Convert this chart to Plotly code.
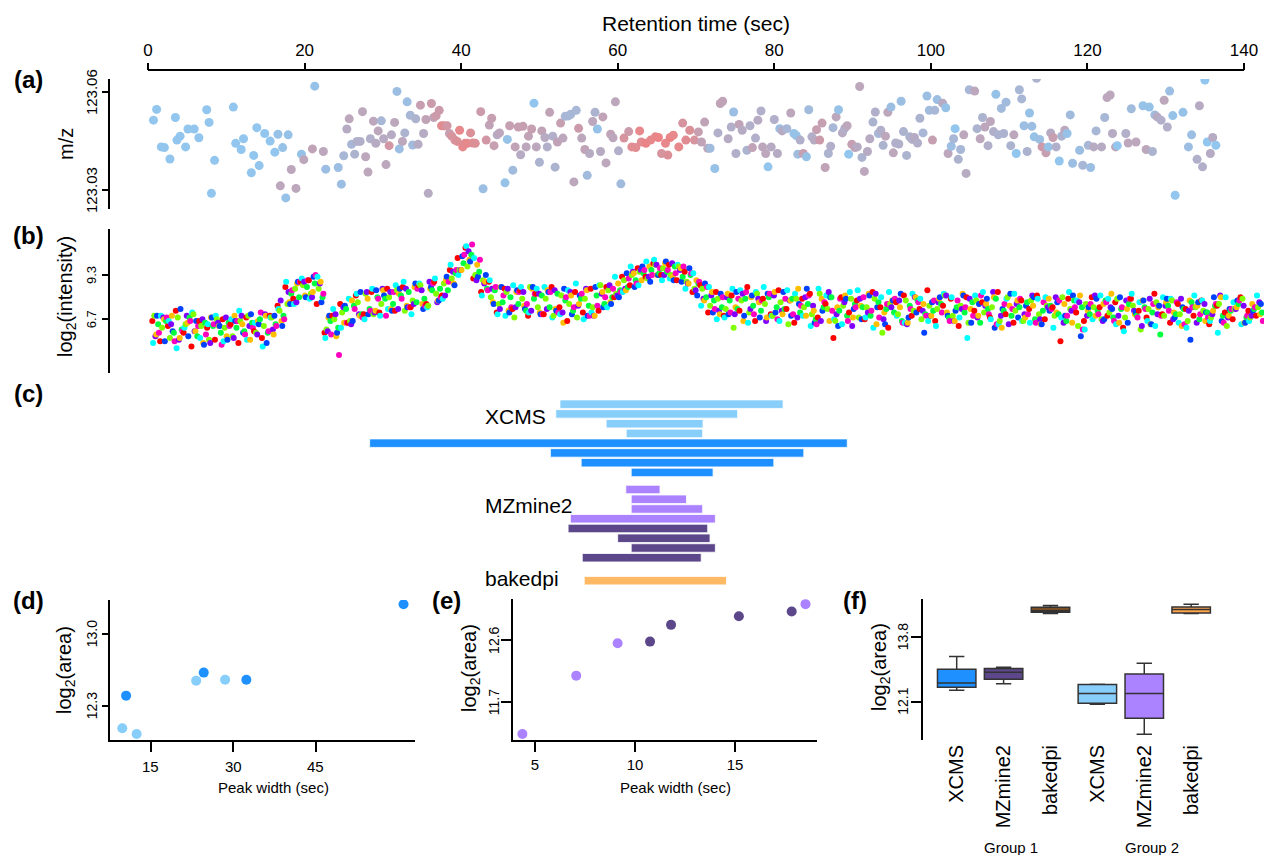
import plotly.graph_objects as go

W, H = 1264, 855
def px(x): return x / W
def py(y): return 1 - y / H

FONT = "Liberation Sans, Arial, sans-serif"

# ---------------- (a) m/z trace: retention time, m/z, relative intensity (colour) ----------------
a_rt = [0.7, 1.1, 1.7, 2.1, 2.8, 3.5, 3.7, 4.1, 4.8, 5.1,
        5.9, 6.5, 7.5, 7.8, 8.1, 8.5, 10.9, 11.2, 11.9, 12.2,
        13.2, 13.5, 13.9, 14.2, 14.9, 15.6, 16.2, 16.6, 16.9, 17.2,
        17.6, 17.9, 18.3, 18.9, 19.6, 19.9, 21.0, 21.3, 22.4, 22.7,
        24.3, 24.7, 25.0, 25.4, 25.7, 26.0, 26.4, 26.7, 27.1, 27.4,
        27.8, 28.1, 28.4, 28.8, 29.1, 29.4, 29.8, 30.1, 30.4, 30.8,
        31.1, 31.5, 31.8, 32.1, 32.5, 32.8, 33.1, 33.5, 33.8, 34.2,
        34.5, 34.8, 35.2, 35.5, 35.8, 36.2, 36.5, 36.8, 37.2, 37.5,
        37.8, 38.2, 38.5, 38.8, 39.2, 39.5, 39.8, 40.2, 40.5, 40.8,
        41.2, 41.5, 41.8, 42.5, 42.8, 43.2, 43.6, 43.9, 44.2, 44.6,
        44.9, 45.6, 45.9, 46.2, 46.6, 46.9, 47.3, 47.6, 47.9, 48.3,
        48.6, 49.0, 49.3, 49.6, 50.0, 50.3, 50.7, 51.0, 51.3, 51.7,
        52.0, 52.3, 52.7, 53.0, 53.3, 53.7, 54.0, 54.4, 54.7, 55.0,
        55.4, 55.8, 56.1, 56.4, 56.8, 57.1, 57.4, 57.8, 58.1, 58.5,
        59.1, 59.4, 59.7, 60.1, 60.4, 60.8, 61.4, 61.8, 62.3,
        62.8, 63.0, 63.6, 64.2, 64.8, 65.2, 65.6, 66.1, 66.4, 66.7,
        67.1, 67.8, 68.3, 68.7, 69.2, 69.8, 70.3, 70.7, 71.1, 71.5,
        71.8, 72.4, 72.8, 73.1, 73.4, 74.1, 74.5, 74.8, 75.1, 75.5,
        75.9, 76.5, 76.9, 77.2, 77.6, 77.9, 78.3, 78.5, 78.9, 79.2,
        79.6, 80.0, 80.4, 80.7, 81.0, 81.6, 82.1, 82.5, 82.8, 83.0,
        83.3, 83.7, 84.1, 84.4, 84.8, 85.1, 85.4, 85.8, 86.1, 86.5,
        86.9, 87.2, 87.5, 87.9, 88.2, 88.7, 89.0, 89.3, 89.5, 89.9,
        90.3, 90.6, 90.9, 91.2, 91.5, 91.9, 92.2, 92.6, 92.9, 93.3,
        93.6, 93.9, 94.2, 94.5, 94.9, 95.2, 95.5, 95.9, 96.2, 96.5,
        96.9, 97.3, 97.6, 97.9, 98.3, 98.6, 99.0, 99.5, 99.8, 100.2,
        100.5, 100.8, 101.5, 101.9, 102.2, 102.6, 102.9, 103.1, 103.5, 103.8,
        104.2, 104.5, 104.9, 105.6, 105.9, 106.3, 106.6, 106.9, 107.3, 107.6,
        108.0, 108.3, 108.6, 109.0, 109.3, 109.6, 110.2, 110.6, 110.9, 111.3,
        111.6, 111.9, 112.3, 112.6, 112.9, 113.2, 113.5, 113.9, 114.2, 114.7,
        115.0, 115.3, 115.6, 116.0, 116.4, 116.7, 117.1, 117.4, 117.8, 118.1,
        119.0, 119.4, 120.1, 120.4, 120.8, 121.1, 121.8, 122.2, 122.5, 122.9,
        123.2, 123.6, 123.8, 124.9, 125.2, 125.6, 126.2, 127.1, 127.5, 127.9,
        128.3, 128.6, 128.9, 129.4, 129.8, 130.2, 130.5, 130.9, 131.2, 132.2,
        132.9, 133.3, 134.0, 134.3, 134.7, 135.0, 135.3, 135.7, 136.0, 136.4]
a_mz = [123.0514, 123.0547, 123.0432, 123.0430, 123.0395, 123.0522, 123.0453, 123.0465, 123.0432, 123.0487,
        123.0487, 123.0460, 123.0546, 123.0507, 123.0290, 123.0391, 123.0554, 123.0443, 123.0424, 123.0457,
        123.0353, 123.0406, 123.0491, 123.0375, 123.0473, 123.0450, 123.0416, 123.0471, 123.0313, 123.0430,
        123.0276, 123.0469, 123.0363, 123.0305, 123.0410, 123.0393, 123.0426, 123.0618, 123.0418, 123.0364,
        123.0369, 123.0318, 123.0405, 123.0487, 123.0518, 123.0440, 123.0410, 123.0449, 123.0449, 123.0540,
        123.0402, 123.0355, 123.0457, 123.0511, 123.0443, 123.0481, 123.0512, 123.0457, 123.0378, 123.0436,
        123.0469, 123.0507, 123.0602, 123.0426, 123.0449, 123.0475, 123.0570, 123.0529, 123.0438, 123.0518,
        123.0440, 123.0560, 123.0473, 123.0516, 123.0290, 123.0565, 123.0522, 123.0527, 123.0544, 123.0497,
        123.0497, 123.0497, 123.0473, 123.0465, 123.0453, 123.0449, 123.0483, 123.0432, 123.0443, 123.0443,
        123.0475, 123.0444, 123.0443, 123.0540, 123.0304, 123.0453, 123.0499, 123.0520, 123.0436, 123.0469,
        123.0475, 123.0322, 123.0455, 123.0497, 123.0361, 123.0432, 123.0493, 123.0408, 123.0495, 123.0432,
        123.0465, 123.0487, 123.0566, 123.0432, 123.0385, 123.0481, 123.0461, 123.0432, 123.0538, 123.0465,
        123.0370, 123.0447, 123.0505, 123.0459, 123.0526, 123.0527, 123.0532, 123.0325, 123.0544, 123.0489,
        123.0459, 123.0424, 123.0345, 123.0412, 123.0510, 123.0538, 123.0487, 123.0418, 123.0524, 123.0383,
        123.0471, 123.0460, 123.0570, 123.0420, 123.0319, 123.0459, 123.0479, 123.0432, 123.0430,
        123.0481, 123.0447, 123.0443, 123.0453, 123.0463, 123.0461, 123.0412, 123.0443, 123.0407, 123.0461,
        123.0468, 123.0432, 123.0505, 123.0453, 123.0483, 123.0453, 123.0478, 123.0447, 123.0508, 123.0428,
        123.0428, 123.0366, 123.0475, 123.0565, 123.0572, 123.0457, 123.0493, 123.0539, 123.0412, 123.0501,
        123.0483, 123.0422, 123.0497, 123.0430, 123.0459, 123.0514, 123.0542, 123.0432, 123.0412, 123.0371,
        123.0432, 123.0516, 123.0412, 123.0488, 123.0481, 123.0488, 123.0536, 123.0473, 123.0467, 123.0410,
        123.0453, 123.0412, 123.0402, 123.0546, 123.0463, 123.0453, 123.0485, 123.0453, 123.0505, 123.0369,
        123.0412, 123.0434, 123.0491, 123.0524, 123.0546, 123.0475, 123.0489, 123.0497, 123.0410, 123.0440,
        123.0430, 123.0432, 123.0617, 123.0400, 123.0357, 123.0418, 123.0457, 123.0508, 123.0539, 123.0473,
        123.0483, 123.0437, 123.0465, 123.0538, 123.0554, 123.0414, 123.0444, 123.0441, 123.0572, 123.0479,
        123.0406, 123.0463, 123.0455, 123.0461, 123.0444, 123.0520, 123.0475, 123.0588, 123.0544, 123.0453,
        123.0544, 123.0577, 123.0566, 123.0552, 123.0412, 123.0434, 123.0457, 123.0488, 123.0394, 123.0424,
        123.0469, 123.0351, 123.0607, 123.0603, 123.0488, 123.0457, 123.0522, 123.0493, 123.0436, 123.0510,
        123.0479, 123.0593, 123.0469, 123.0550, 123.0473, 123.0569, 123.0436, 123.0469, 123.0412, 123.0607,
        123.0579, 123.0497, 123.0418, 123.0536, 123.0495, 123.0463, 123.0642, 123.0455, 123.0432, 123.0414,
        123.0432, 123.0475, 123.0461, 123.0432, 123.0389, 123.0465, 123.0483, 123.0473, 123.0530, 123.0382,
        123.0422, 123.0376, 123.0437, 123.0369, 123.0432, 123.0481, 123.0432, 123.0522, 123.0583, 123.0591,
        123.0473, 123.0432, 123.0436, 123.0473, 123.0444, 123.0549, 123.0447, 123.0558, 123.0424, 123.0554,
        123.0418, 123.0530, 123.0524, 123.0514, 123.0575, 123.0493, 123.0603, 123.0528, 123.0284, 123.0538,
        123.0432, 123.0469, 123.0394, 123.0558, 123.0371, 123.0637, 123.0447, 123.0412, 123.0461, 123.0437]
a_rel_int = [0.1, 0.1, 0.1, 0.1, 0.1, 0.1, 0.1, 0.1, 0.1, 0.1,
             0.1, 0.1, 0.1, 0.1, 0.1, 0.1, 0.1, 0.1, 0.1, 0.1,
             0.1, 0.1, 0.1, 0.1, 0.1, 0.1, 0.1, 0.15, 0.5, 0.15,
             0.15, 0.15, 0.5, 0.5, 0.15, 0.5, 0.55, 0.15, 0.5, 0.2,
             0.2, 0.2, 0.3, 0.45, 0.5, 0.3, 0.35, 0.4, 0.4, 0.5,
             0.5, 0.5, 0.4, 0.5, 0.45, 0.5, 0.3, 0.45, 0.5, 0.7,
             0.45, 0.5, 0.2, 0.2, 0.5, 0.35, 0.2, 0.3, 0.25, 0.35,
             0.45, 0.6, 0.45, 0.55, 0.45, 0.65, 0.55, 0.65, 0.65, 0.85,
             0.85, 0.7, 0.6, 0.75, 0.75, 0.8, 0.9, 0.9, 0.85, 0.9,
             0.8, 0.85, 0.8, 0.65, 0.2, 0.7, 0.55, 0.6, 0.6, 0.45,
             0.5, 0.15, 0.15, 0.6, 0.25, 0.55, 0.6, 0.45, 0.6, 0.5,
             0.55, 0.6, 0.1, 0.5, 0.35, 0.55, 0.45, 0.4, 0.55, 0.4,
             0.35, 0.55, 0.6, 0.5, 0.3, 0.3, 0.3, 0.5, 0.3, 0.65,
             0.5, 0.55, 0.25, 0.45, 0.5, 0.35, 0.15, 0.45, 0.55, 0.5,
             0.55, 0.5, 0.5, 0.4, 0.25, 0.75, 0.65, 0.85, 0.85,
             0.9, 0.85, 0.95, 0.9, 0.9, 0.95, 0.75, 0.9, 0.8, 0.95,
             0.9, 0.9, 0.75, 0.85, 0.8, 0.75, 0.6, 0.55, 0.55, 0.5,
             0.25, 0.15, 0.4, 0.55, 0.55, 0.45, 0.4, 0.2, 0.4, 0.55,
             0.45, 0.35, 0.4, 0.55, 0.4, 0.45, 0.4, 0.5, 0.5, 0.1,
             0.45, 0.4, 0.45, 0.2, 0.45, 0.3, 0.5, 0.15, 0.15, 0.25,
             0.4, 0.6, 0.15, 0.25, 0.4, 0.45, 0.6, 0.65, 0.6, 0.55,
             0.35, 0.4, 0.3, 0.5, 0.15, 0.45, 0.4, 0.5, 0.1, 0.6,
             0.55, 0.45, 0.5, 0.35, 0.5, 0.45, 0.45, 0.35, 0.4, 0.3,
             0.4, 0.35, 0.5, 0.5, 0.2, 0.5, 0.4, 0.4, 0.2, 0.35,
             0.35, 0.35, 0.4, 0.45, 0.4, 0.35, 0.3, 0.2, 0.25, 0.6,
             0.3, 0.2, 0.45, 0.15, 0.5, 0.2, 0.3, 0.1, 0.35, 0.3,
             0.5, 0.45, 0.3, 0.5, 0.35, 0.5, 0.35, 0.5, 0.4, 0.5,
             0.4, 0.15, 0.35, 0.25, 0.35, 0.25, 0.35, 0.5, 0.1, 0.3,
             0.3, 0.2, 0.35, 0.15, 0.2, 0.15, 0.35, 0.2, 0.65, 0.6,
             0.15, 0.45, 0.6, 0.4, 0.1, 0.35, 0.5, 0.15, 0.25, 0.2,
             0.2, 0.3, 0.3, 0.2, 0.45, 0.3, 0.45, 0.3, 0.5, 0.5,
             0.45, 0.55, 0.1, 0.4, 0.5, 0.25, 0.5, 0.15, 0.5, 0.15,
             0.35, 0.25, 0.45, 0.4, 0.5, 0.4, 0.2, 0.15, 0.1, 0.15,
             0.2, 0.2, 0.4, 0.45, 0.4, 0.1, 0.1, 0.45, 0.45, 0.1]

# ---------------- (b) log2 intensity of 8 samples, one scan per second ----------------
b_rt = [1, 2, 3, 4, 5, 6, 7, 8, 9, 10, 11, 12, 13, 14, 15, 16, 17, 18, 19, 20,
        21, 22, 23, 24, 25, 26, 27, 28, 29, 30, 31, 32, 33, 34, 35, 36, 37, 38, 39, 40,
        41, 42, 43, 44, 45, 46, 47, 48, 49, 50, 51, 52, 53, 54, 55, 56, 57, 58, 59, 60,
        61, 62, 63, 64, 65, 66, 67, 68, 69, 70, 71, 72, 73, 74, 75, 76, 77, 78, 79, 80,
        81, 82, 83, 84, 85, 86, 87, 88, 89, 90, 91, 92, 93, 94, 95, 96, 97, 98, 99, 100,
        101, 102, 103, 104, 105, 106, 107, 108, 109, 110, 111, 112, 113, 114, 115, 116, 117, 118, 119, 120,
        121, 122, 123, 124, 125, 126, 127, 128, 129, 130, 131, 132, 133, 134, 135, 136, 137, 138, 139, 140,
        141, 142]
b_rt_shift = [-0.45, 0.05, -0.2, 0.3, -0.35, 0.15, -0.05, 0.4]
b_s1 = [6.6, 5.4, 6.3, 7.2, 5.9, 5.1, 6.6, 6.2, 5.5, 6.7,
        6.4, 5.3, 6.8, 6.0, 5.6, 6.9, 7.5, 8.6, 7.9, 8.9,
        9.0, 7.6, 5.9, 6.9, 7.6, 6.5, 8.1, 7.0, 8.3, 7.1,
        8.5, 7.2, 8.6, 7.4, 8.7, 7.6, 8.9, 8.1, 9.6, 10.3,
        10.9, 9.1, 8.3, 8.9, 7.1, 8.5, 7.3, 8.4, 6.9, 8.2,
        7.0, 8.6, 7.4, 6.6, 8.3, 7.1, 8.5, 7.2, 8.6, 8.0,
        9.2, 8.7, 9.7, 9.2, 10.0, 9.3, 9.9, 9.0, 9.5, 8.3,
        8.7, 7.1, 8.3, 6.9, 8.1, 7.2, 8.6, 6.6, 7.9, 7.0,
        8.4, 7.3, 6.5, 7.9, 8.2, 6.8, 7.6, 5.6, 8.0, 7.1,
        7.8, 6.7, 8.3, 7.4, 6.2, 7.7, 8.1, 6.9, 7.3, 8.4,
        6.6, 7.5, 7.9, 6.3, 8.0, 7.2, 7.7, 6.8, 8.3, 7.0,
        6.5, 7.8, 7.3, 8.1, 6.7, 7.4, 5.4, 7.9, 7.1, 6.6,
        8.0, 7.4, 6.9, 7.7, 6.2, 7.9, 7.2, 6.8, 8.2, 7.0,
        6.5, 7.6, 7.3, 6.9, 7.8, 6.4, 7.5, 7.1, 6.7, 8.0,
        7.2, 6.9]
b_s2 = [5.8, 6.7, 6.9, 5.6, 6.5, 6.0, 5.3, 6.8, 6.3, 5.7,
        6.9, 6.4, 5.5, 6.6, 6.9, 5.8, 6.6, 7.7, 8.8, 8.1,
        8.3, 8.9, 6.8, 5.7, 6.5, 7.8, 6.9, 7.9, 7.2, 8.4,
        7.3, 8.2, 7.5, 8.6, 7.6, 8.5, 7.8, 9.0, 8.8, 9.6,
        10.2, 9.9, 8.9, 7.7, 8.6, 7.2, 8.3, 7.5, 8.5, 7.1,
        8.4, 7.3, 6.5, 8.1, 7.6, 8.4, 6.9, 8.3, 7.7, 8.8,
        8.4, 9.4, 9.0, 9.8, 9.3, 10.0, 9.2, 9.7, 8.8, 9.0,
        7.8, 8.3, 7.0, 8.2, 7.4, 6.6, 8.0, 7.7, 6.8, 8.3,
        7.0, 7.8, 8.5, 6.9, 7.2, 7.9, 6.6, 7.4, 8.1, 6.8,
        7.5, 8.2, 6.4, 7.1, 7.8, 7.4, 6.5, 8.0, 7.6, 6.9,
        7.9, 7.1, 6.6, 8.2, 7.3, 6.9, 7.6, 8.0, 6.2, 7.5,
        7.8, 6.8, 7.5, 6.4, 7.9, 7.1, 7.6, 6.5, 8.1, 7.2,
        6.9, 7.6, 8.2, 6.5, 7.3, 7.0, 7.8, 6.4, 7.4, 7.7,
        7.1, 6.3, 7.8, 7.5, 6.6, 7.2, 8.0, 6.9, 7.4, 6.5,
        7.6, 7.0]
b_s3 = [6.9, 6.2, 5.6, 6.8, 6.4, 7.0, 6.3, 5.5, 6.7, 6.2,
        5.7, 6.6, 6.9, 5.9, 6.3, 6.8, 7.2, 7.6, 8.5, 8.7,
        8.2, 8.5, 6.1, 6.7, 7.1, 6.6, 7.7, 8.2, 7.0, 7.6,
        8.0, 8.4, 7.2, 7.8, 8.7, 7.5, 8.2, 8.8, 9.1, 9.6,
        9.8, 9.3, 9.0, 8.0, 7.6, 8.3, 6.8, 7.9, 8.6, 7.4,
        7.9, 6.9, 8.1, 7.6, 6.8, 7.9, 7.4, 8.7, 8.4, 8.2,
        9.0, 9.3, 9.5, 9.1, 9.9, 9.7, 9.3, 9.8, 8.9, 8.5,
        8.5, 7.5, 7.9, 7.3, 6.2, 7.8, 7.1, 8.2, 7.6, 6.9,
        7.7, 6.4, 7.9, 7.4, 7.0, 8.2, 7.3, 6.6, 7.5, 7.9,
        6.8, 7.4, 7.9, 5.9, 7.6, 7.0, 7.8, 7.2, 6.7, 7.5,
        7.3, 8.1, 6.9, 7.5, 6.5, 7.8, 7.1, 7.4, 6.6, 8.0,
        7.2, 6.6, 7.8, 7.0, 7.5, 6.9, 8.0, 7.3, 6.3, 7.6,
        7.4, 6.7, 7.1, 7.9, 6.8, 7.5, 6.1, 7.3, 7.7, 6.9,
        7.8, 7.0, 6.6, 7.4, 7.2, 6.8, 7.6, 6.3, 7.3, 7.9,
        6.8, 7.4]
b_s4 = [6.4, 6.6, 5.9, 6.1, 6.8, 5.7, 6.5, 6.3, 5.9, 6.5,
        6.2, 6.0, 6.5, 6.7, 5.9, 6.4, 6.9, 8.2, 8.0, 8.6,
        8.8, 8.0, 6.6, 6.2, 7.3, 7.5, 7.0, 7.3, 8.0, 7.9,
        7.6, 8.1, 8.3, 7.7, 7.9, 8.4, 8.5, 8.4, 9.4, 10.0,
        10.5, 9.5, 8.5, 8.4, 7.7, 8.0, 7.6, 7.2, 7.9, 8.1,
        7.4, 8.2, 7.8, 7.2, 7.9, 7.5, 8.1, 7.6, 8.0, 8.4,
        8.6, 9.0, 9.4, 9.6, 9.4, 9.5, 9.8, 9.2, 9.3, 8.8,
        8.0, 7.8, 7.4, 7.8, 7.3, 7.9, 7.5, 7.2, 8.0, 7.4,
        7.3, 7.9, 7.1, 7.6, 6.7, 7.4, 8.0, 7.2, 6.9, 7.6,
        7.4, 6.9, 7.7, 7.3, 7.1, 6.6, 7.5, 7.8, 7.0, 7.2,
        7.6, 6.8, 7.4, 7.1, 7.7, 6.5, 7.3, 7.9, 7.2, 6.9,
        7.4, 7.7, 6.7, 7.2, 7.5, 7.0, 6.6, 7.8, 7.4, 7.0,
        7.2, 7.8, 6.8, 7.3, 7.6, 6.9, 7.4, 7.1, 5.8, 7.5,
        7.0, 7.3, 7.7, 6.7, 7.1, 7.5, 6.9, 7.2, 7.6, 6.8,
        7.3, 7.1]
b_s5 = [5.3, 6.9, 6.6, 5.0, 6.2, 7.1, 5.6, 6.4, 6.9, 5.4,
        6.7, 7.2, 5.5, 6.5, 5.1, 6.8, 7.3, 8.9, 7.6, 9.1,
        7.9, 9.2, 5.6, 7.3, 6.2, 7.9, 8.2, 6.7, 8.5, 6.9,
        7.3, 8.7, 8.9, 7.0, 8.8, 7.4, 9.1, 7.9, 9.9, 9.3,
        11.0, 10.3, 8.1, 9.0, 7.0, 6.9, 8.7, 8.6, 7.1, 8.5,
        8.6, 6.8, 7.0, 8.4, 8.8, 6.7, 7.1, 8.7, 7.4, 9.2,
        8.3, 9.8, 8.7, 10.1, 10.2, 9.0, 9.1, 9.9, 8.5, 9.4,
        7.5, 8.6, 6.7, 6.8, 8.5, 8.4, 6.5, 8.3, 8.6, 6.9,
        6.6, 8.4, 8.2, 6.9, 6.3, 8.5, 8.1, 6.7, 6.4, 8.3,
        8.4, 6.8, 6.2, 8.0, 8.3, 6.9, 6.5, 8.2, 7.9, 6.6,
        6.3, 8.2, 8.0, 6.8, 5.6, 8.1, 8.3, 6.7, 6.4, 7.9,
        8.2, 6.6, 6.5, 7.9, 8.0, 6.2, 6.8, 8.3, 7.8, 6.1,
        6.7, 8.1, 7.9, 6.4, 6.0, 8.2, 7.7, 6.6, 6.3, 8.0,
        7.9, 6.5, 6.2, 8.1, 7.8, 6.6, 5.9, 8.0, 7.7, 6.4,
        6.6, 8.1]
b_s6 = [6.9, 5.4, 6.0, 7.3, 5.7, 6.6, 5.2, 6.8, 6.3, 5.5,
        6.6, 5.9, 7.0, 6.4, 5.3, 6.9, 6.3, 7.6, 8.9, 8.0,
        9.2, 7.7, 6.9, 5.9, 7.5, 6.6, 8.3, 7.0, 8.4, 8.1,
        7.2, 8.5, 7.4, 8.8, 7.3, 8.6, 7.8, 9.2, 8.7, 10.4,
        10.1, 9.2, 9.3, 7.6, 8.6, 7.1, 8.4, 7.3, 8.6, 7.0,
        8.3, 7.2, 8.5, 7.0, 8.1, 6.9, 8.6, 7.4, 7.6, 8.0,
        9.4, 8.6, 9.8, 8.9, 9.3, 10.1, 9.0, 8.9, 9.7, 8.1,
        8.8, 7.1, 8.2, 7.0, 8.3, 6.9, 8.1, 6.8, 8.2, 7.1,
        8.3, 6.9, 7.6, 8.5, 6.5, 7.2, 8.0, 6.3, 7.9, 7.3,
        6.7, 8.1, 7.4, 6.4, 7.8, 8.2, 6.8, 7.1, 5.9, 7.7,
        8.0, 6.9, 7.2, 8.1, 6.5, 7.6, 7.9, 6.2, 7.3, 8.2,
        6.8, 7.5, 8.0, 6.4, 7.2, 7.7, 6.9, 8.1, 5.7, 7.4,
        7.9, 6.7, 7.3, 8.0, 6.5, 7.1, 7.8, 6.4, 7.5, 7.9,
        6.8, 7.4, 5.5, 7.7, 7.1, 8.0, 6.6, 7.3, 7.8, 6.5,
        7.2, 7.6]
b_s7 = [5.7, 6.8, 6.4, 5.5, 6.9, 6.0, 6.7, 5.3, 6.5, 6.8,
        5.6, 6.9, 6.3, 5.8, 7.0, 6.1, 7.8, 8.3, 7.7, 8.9,
        8.0, 8.8, 6.0, 7.0, 7.4, 6.4, 7.0, 8.3, 7.1, 8.5,
        8.3, 7.3, 8.5, 7.6, 8.4, 8.9, 7.7, 8.1, 9.5, 9.6,
        10.7, 9.0, 8.8, 8.5, 7.3, 8.5, 7.4, 8.3, 7.2, 8.2,
        7.3, 8.4, 7.1, 8.3, 7.5, 8.5, 6.9, 8.2, 8.7, 8.1,
        8.5, 9.5, 9.6, 9.2, 9.9, 9.3, 10.0, 9.6, 8.8, 8.4,
        7.9, 8.1, 7.2, 8.0, 7.0, 8.2, 7.3, 7.9, 6.6, 8.1,
        7.2, 7.8, 6.8, 8.0, 7.5, 6.6, 8.3, 7.0, 7.7, 6.3,
        7.9, 7.1, 8.2, 6.7, 7.4, 7.8, 6.4, 8.0, 7.2, 6.9,
        7.7, 8.1, 6.6, 7.3, 7.9, 6.8, 7.5, 8.3, 6.9, 6.4,
        7.6, 7.0, 8.1, 6.7, 7.4, 8.0, 6.5, 7.2, 7.7, 6.9,
        8.1, 6.6, 7.4, 6.9, 7.8, 7.2, 6.3, 7.9, 7.0, 7.5,
        6.7, 7.9, 7.2, 6.5, 7.6, 7.0, 8.1, 6.8, 7.3, 7.5,
        6.9, 7.7]
b_s8 = [5.9, 6.8, 5.4, 6.0, 6.6, 6.3, 5.8, 6.4, 5.2, 6.3,
        6.6, 5.8, 6.2, 7.1, 6.0, 6.3, 6.7, 8.4, 8.9, 9.0,
        9.3, 8.2, 5.8, 4.6, 6.5, 7.3, 6.8, 7.2, 7.9, 6.9,
        8.3, 7.9, 7.4, 8.5, 7.5, 8.8, 8.0, 8.9, 9.6, 10.5,
        11.1, 10.2, 8.4, 8.6, 8.1, 7.4, 8.3, 7.6, 8.2, 7.0,
        8.3, 7.1, 8.0, 7.4, 8.2, 6.9, 7.5, 8.0, 8.5, 8.3,
        9.1, 8.8, 9.6, 9.3, 9.7, 9.6, 9.4, 9.8, 9.4, 8.9,
        8.6, 7.3, 8.0, 7.1, 7.9, 8.3, 7.0, 7.8, 8.2, 6.7,
        7.9, 7.0, 7.5, 8.1, 6.4, 7.7, 7.2, 7.9, 6.6, 7.4,
        8.0, 7.2, 6.8, 7.6, 7.9, 6.5, 7.3, 7.7, 6.9, 7.8,
        7.1, 6.6, 7.8, 7.4, 6.9, 8.1, 7.0, 6.4, 7.6, 7.3,
        7.9, 7.0, 6.5, 7.7, 7.3, 7.8, 6.9, 7.4, 6.1, 7.6,
        7.0, 7.7, 6.6, 7.4, 7.9, 6.8, 7.3, 7.6, 6.9, 7.2,
        7.7, 6.4, 7.4, 7.0, 6.8, 7.6, 6.5, 7.3, 7.8, 6.9,
        7.4, 6.6]
b_colors = ["#FF0000", "#FFBF00", "#80FF00", "#00FF40", "#00FFFF", "#0040FF", "#8000FF", "#FF00BF"]

# ---------------- (c) detected peak boundaries (sec) and areas ----------------
xcms_start = [52.62, 52.09, 58.52, 61.08, 28.31, 51.40, 55.33, 61.72]
xcms_end = [81.12, 75.32, 70.90, 70.85, 89.32, 83.77, 79.94, 72.18]
xcms_group = [2, 2, 2, 2, 1, 1, 1, 1]
xcms_log2_area = [12.558, 12.549, 12.030, 12.086, 13.291, 12.558, 12.627, 12.403]
mzmine_start = [61.03, 61.72, 61.72, 53.95, 53.66, 59.99, 61.72, 55.47]
mzmine_end = [65.40, 68.78, 70.85, 72.47, 71.49, 71.79, 72.47, 70.66]
mzmine_group = [2, 2, 2, 2, 1, 1, 1, 1]
mzmine_log2_area = [11.242, 12.084, 12.552, 13.116, 13.010, 12.817, 12.575, 12.940]
bakedpi_start = [55.72]
bakedpi_end = [73.89]
bakedpi_log2_area_g1 = [14.43, 14.46, 14.50, 14.59, 14.64]
bakedpi_log2_area_g2 = [14.43, 14.44, 14.53, 14.60, 14.67]

box_labels = ["XCMS", "MZmine2", "bakedpi", "XCMS", "MZmine2", "bakedpi"]
a_yticks = [123.03, 123.06]
b_yticks = [6.7, 9.3]
d_xticks = [15, 30, 45]
d_yticks = [12.3, 13.0]
e_xticks = [5, 10, 15]
e_yticks = [11.7, 12.6]
f_yticks = [12.1, 13.8]

# colours
C_XCMS = {1: "#1E90FF", 2: "#87CEFA"}
C_MZ = {1: "#5D478B", 2: "#AB82FF"}
C_BAKED_BAR = "#FFB864"
C_BAKED = {1: "#7A4E24", 2: "#FFA54F"}

D_XDOM = (110, 415)
D_XR = [7.53, 63.1]

fig = go.Figure()

# (a)
fig.add_trace(go.Scatter(
    x=a_rt, y=a_mz, mode="markers", xaxis="x", yaxis="y",
    marker=dict(size=9, color=a_rel_int, cmin=0, cmax=1,
                colorscale=[[0, "#87CEFA"], [1, "#F08080"]], line=dict(width=0)),
    hoverinfo="skip"))

# (b) all samples merged, ordered by retention time so the colours interleave
pts = []
for vals, sh, col in zip([b_s1, b_s2, b_s3, b_s4, b_s5, b_s6, b_s7, b_s8], b_rt_shift, b_colors):
    for t, v in zip(b_rt, vals):
        pts.append((t + sh, v, col))
pts.sort(key=lambda p: p[0])
fig.add_trace(go.Scatter(
    x=[p[0] for p in pts], y=[p[1] for p in pts], mode="markers", xaxis="x2", yaxis="y2",
    marker=dict(size=6, color=[p[2] for p in pts], line=dict(width=0)), hoverinfo="skip"))

# (c) peak bars
row_xcms = [i for i in range(len(xcms_start))]
row_mz = [8.75 + i for i in range(len(mzmine_start))]
row_baked = [18.1]
for starts, ends, groups, rows, cmap in [
        (xcms_start, xcms_end, xcms_group, row_xcms, C_XCMS),
        (mzmine_start, mzmine_end, mzmine_group, row_mz, C_MZ)]:
    fig.add_trace(go.Bar(
        y=rows, x=[e - s for s, e in zip(starts, ends)], base=starts, orientation="h",
        width=0.87, xaxis="x3", yaxis="y3",
        marker=dict(color=[cmap[g] for g in groups], line=dict(color="rgba(255,255,255,0.8)", width=1)),
        hoverinfo="skip"))
fig.add_trace(go.Bar(
    y=row_baked, x=[e - s for s, e in zip(bakedpi_start, bakedpi_end)], base=bakedpi_start,
    orientation="h", width=0.87, xaxis="x3", yaxis="y3",
    marker=dict(color=C_BAKED_BAR, line=dict(color="rgba(255,255,255,0.8)", width=1)), hoverinfo="skip"))

# (d) XCMS peak width vs area
xcms_width = [e - s for s, e in zip(xcms_start, xcms_end)]
fig.add_trace(go.Scatter(
    x=xcms_width, y=xcms_log2_area, mode="markers", xaxis="x4", yaxis="y4",
    marker=dict(size=10, color=[C_XCMS[g] for g in xcms_group]), hoverinfo="skip"))

# (e) MZmine2 peak width vs area
mz_width = [e - s for s, e in zip(mzmine_start, mzmine_end)]
fig.add_trace(go.Scatter(
    x=mz_width, y=mzmine_log2_area, mode="markers", xaxis="x5", yaxis="y5",
    marker=dict(size=10, color=[C_MZ[g] for g in mzmine_group]), hoverinfo="skip"))

# (f) box plots
box_sets = [
    ([a for a, g in zip(xcms_log2_area, xcms_group) if g == 1], C_XCMS[1]),
    ([a for a, g in zip(mzmine_log2_area, mzmine_group) if g == 1], C_MZ[1]),
    (bakedpi_log2_area_g1, C_BAKED[1]),
    ([a for a, g in zip(xcms_log2_area, xcms_group) if g == 2], C_XCMS[2]),
    ([a for a, g in zip(mzmine_log2_area, mzmine_group) if g == 2], C_MZ[2]),
    (bakedpi_log2_area_g2, C_BAKED[2]),
]
for i, (vals, col) in enumerate(box_sets):
    fig.add_trace(go.Box(
        y=vals, x=[i] * len(vals), xaxis="x6", yaxis="y6", width=0.82,
        fillcolor=col, line=dict(color="#333333", width=1.5), whiskerwidth=0.4,
        boxpoints=False, quartilemethod="inclusive", hoverinfo="skip"))

def tf(size):
    return dict(family=FONT, size=size, color="black")

def yax(domain, rng, tv, ticklen=6, anchor="x"):
    return dict(domain=domain, range=rng, anchor=anchor, showline=True, linewidth=2, linecolor="black",
                ticks="outside", ticklen=ticklen, tickwidth=2, tickcolor="black",
                tickvals=tv, showticklabels=False, showgrid=False, zeroline=False)

def xax(domain, rng, tv, anchor, labels=True):
    return dict(domain=domain, range=rng, anchor=anchor, showline=True, linewidth=2,
                linecolor="black", ticks="outside", ticklen=10, tickwidth=2, tickcolor="black",
                tickvals=tv, showticklabels=labels, tickfont=tf(15), showgrid=False, zeroline=False)

XD = [px(110), 1.0]
XR = [-4.854, 142.55]
fig.update_layout(
    width=W, height=H, margin=dict(l=0, r=0, t=0, b=0),
    paper_bgcolor="white", plot_bgcolor="white", showlegend=False, template="none",
    barmode="overlay", font=dict(family=FONT, color="black"),
    xaxis=dict(domain=XD, range=XR, anchor="free", position=py(70), side="top",
               showline=False, ticks="outside", ticklen=7, tickwidth=2, tickcolor="black",
               tickvals=[0, 20, 40, 60, 80, 100, 120, 140],
               tickfont=tf(17), showgrid=False, zeroline=False),
    yaxis=yax([py(209), py(79)], [123.0242, 123.064], a_yticks),
    xaxis2=dict(domain=XD, range=XR, matches="x", anchor="y2", visible=False),
    yaxis2=yax([py(373.3), py(229.3)], [3.52, 11.99], b_yticks, anchor="x2"),
    xaxis3=dict(domain=XD, range=XR, matches="x", anchor="y3", visible=False),
    yaxis3=dict(domain=[py(590), py(395)], range=[19.06, -0.94], anchor="x3", visible=False),
    xaxis4=xax([px(D_XDOM[0]), px(D_XDOM[1])], D_XR, d_xticks, "y4", labels=False),
    yaxis4=yax([py(740), py(600)], [11.972, 13.333], d_yticks, anchor="x4"),
    xaxis5=xax([px(512.7), px(816.7)], [3.885, 19.08], e_xticks, "y5"),
    yaxis5=yax([py(740), py(599)], [11.155, 13.19], e_yticks, ticklen=10, anchor="x5"),
    xaxis6=dict(domain=[px(922.7), px(1219.3)], range=[-0.725, 5.6], anchor="y6", showline=False,
                ticks="", tickvals=[0, 1, 2, 3, 4, 5], ticktext=box_labels, tickangle=-90,
                tickfont=tf(20), showgrid=False, zeroline=False),
    yaxis6=yax([py(740), py(599)], [11.09, 14.81], f_yticks, ticklen=10, anchor="x6"),
)

# top axis line from 0 to 140 sec
fig.add_shape(type="line", xref="x", yref="paper", x0=0, x1=140, y0=py(70), y1=py(70),
              line=dict(color="black", width=2))

def ann(text, x, y, size, angle=0, bold=False, xanchor="center"):
    fig.add_annotation(text=f"<b>{text}</b>" if bold else text, x=px(x), y=py(y),
                       xref="paper", yref="paper", showarrow=False, textangle=angle,
                       xanchor=xanchor, yanchor="middle", font=tf(size))

# rotated y tick labels, placed at their values on each y axis
for yref, ticks, xc, fs, fmt in [("y", a_yticks, 91, 15, "{:.2f}"), ("y2", b_yticks, 91, 13, "{:.1f}"),
                                 ("y4", d_yticks, 92, 14, "{:.1f}"), ("y5", e_yticks, 494, 14, "{:.1f}"),
                                 ("y6", f_yticks, 903, 14, "{:.1f}")]:
    for v in ticks:
        fig.add_annotation(text=fmt.format(v), x=px(xc), y=v, xref="paper", yref=yref,
                           showarrow=False, textangle=-90, xanchor="center", yanchor="middle",
                           font=tf(fs))

# x tick labels of (d), each as its own text just below the axis
for v in d_xticks:
    xpix = D_XDOM[0] + (v - D_XR[0]) / (D_XR[1] - D_XR[0]) * (D_XDOM[1] - D_XDOM[0])
    fig.add_annotation(text=f"<span>{v}</span>", x=px(xpix), y=py(756), xref="paper", yref="paper",
                       showarrow=False, xanchor="center", yanchor="top", font=tf(15),
                       bgcolor="rgba(255,255,255,0)")

ann("Retention time (sec)", 696, 24, 21)
for lab, x, y in [("(a)", 28, 79), ("(b)", 28, 235), ("(c)", 28, 393),
                  ("(d)", 28, 600), ("(e)", 446, 600), ("(f)", 855, 600)]:
    ann(lab, x, y, 24, bold=True)
ann("m/z", 66, 144, 20, angle=-90)
ann("log<sub>2</sub>(intensity)", 66, 297, 20, angle=-90)
ann("log<sub>2</sub>(area)", 65, 670, 20, angle=-90)
ann("log<sub>2</sub>(area)", 470, 668, 20, angle=-90)
ann("log<sub>2</sub>(area)", 880, 667, 20, angle=-90)
ann("Peak width (sec)", 273, 787, 15)
ann("Peak width (sec)", 675, 787, 15)
ann("Group 1", 1011, 847, 15)
ann("Group 2", 1152, 847, 15)
ann("XCMS", 483, 417, 21, xanchor="left")
ann("MZmine2", 483, 505, 21, xanchor="left")
ann("bakedpi", 483, 578, 21, xanchor="left")

fig.write_html("out.html", config={"displayModeBar": False},
               post_script="document.body.style.margin='0px';document.body.style.overflow='hidden';")
